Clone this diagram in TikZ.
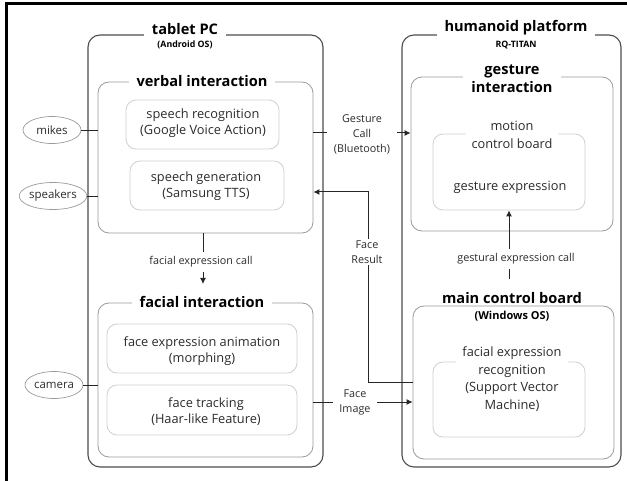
\documentclass[tikz,border=0pt]{standalone}
\usepackage{fontspec}
\setmainfont{Open Sans}
\usetikzlibrary{arrows.meta,shapes.geometric}
\definecolor{outerln}{HTML}{4D4D4D}
\definecolor{midln}{HTML}{9A9A9A}
\definecolor{innerln}{HTML}{CFCFCF}
\definecolor{txt}{HTML}{2B2B2B}
\begin{document}
\begin{tikzpicture}[x=1pt,y=-1pt,
  outerbox/.style={draw=outerln,line width=1.1pt,rounded corners=12pt,minimum width=#1,inner sep=0pt},
  midbox/.style={draw=midln,line width=0.8pt,rounded corners=11pt,inner sep=0pt},
  innerbox/.style={draw=innerln,line width=0.8pt,rounded corners=10pt,inner sep=0pt},
  bigtitle/.style={fill=white,font=\bfseries\fontsize{14.6}{15}\selectfont,inner xsep=8pt,inner ysep=1pt,align=center},
  subtitle/.style={font=\bfseries\fontsize{8.8}{10}\selectfont,inner sep=0pt},
  body/.style={text=txt,font=\fontsize{12.8}{16}\selectfont,align=center,inner sep=0pt},
  device/.style={ellipse,draw=midln,line width=0.7pt,minimum width=58pt,minimum height=27pt,inner sep=0pt,text=txt,font=\fontsize{11.5}{12}\selectfont},
  conn/.style={draw=black!85,line width=1pt},
  arr/.style={conn,-{Latex[length=6pt,width=6pt]}},
  clabel/.style={fill=white,text=txt,font=\fontsize{10.8}{15}\selectfont,align=center,inner xsep=7pt,inner ysep=4pt}
]
\useasboundingbox (0,0) rectangle (627,481);
% frame: top and left edges only
\draw[line width=3pt] (6,481) -- (6,4) -- (627,4);

% ---------- tablet PC ----------
\node[outerbox=235pt,minimum height=432pt] (tablet) at (205.5,251) {};
\node[bigtitle] (tabletT) at (185,29) {tablet PC};
\node[subtitle] (tabletS) at (185,45) {(Android OS)};

\node[midbox,minimum width=215pt,minimum height=151pt] (verbal) at (205.5,157.5) {};
\node[bigtitle] (verbalT) at (202,81) {verbal interaction};
\node[innerbox,minimum width=153pt,minimum height=49pt] (srec) at (202.5,124.5) {};
\node[body] (srecT) at (203,123) {speech recognition\\(Google Voice Action)};
\node[innerbox,minimum width=154pt,minimum height=49pt] (sgen) at (207,185.5) {};
\node[body] (sgenT) at (206,186) {speech generation\\(Samsung TTS)};

\node[midbox,minimum width=215pt,minimum height=154pt] (facial) at (205.5,380) {};
\node[bigtitle] (facialT) at (202,302) {facial interaction};
\node[innerbox,minimum width=190pt,minimum height=49pt] (fanim) at (202,348.5) {};
\node[body] (fanimT) at (202,351) {face expression animation\\(morphing)};
\node[innerbox,minimum width=190pt,minimum height=50pt] (ftrack) at (202,410) {};
\node[body] (ftrackT) at (206,412) {face tracking\\(Haar-like Feature)};

% ---------- humanoid platform ----------
\node[outerbox=219pt,minimum height=432pt] (robot) at (511.5,251) {};
\node[bigtitle] (robotT) at (516,28) {humanoid platform};
\node[subtitle] (robotS) at (516,45) {RQ-TITAN};

\node[midbox,minimum width=202pt,minimum height=154pt] (gesture) at (512,154) {};
\node[bigtitle,font=\bfseries\fontsize{14.6}{18}\selectfont,inner ysep=2pt] (gestureT) at (512,79) {gesture\\interaction};
\node[innerbox,minimum width=152pt,minimum height=76pt] (motion) at (509,172) {};
\node[body,fill=white,inner xsep=6pt,font=\fontsize{12.8}{18}\selectfont] (motionT) at (512,135) {motion\\control board};
\node[body] (gexpT) at (510,187) {gesture expression};

\node[midbox,minimum width=201pt,minimum height=153pt] (mainb) at (513.5,382.5) {};
\node[bigtitle] (mainT) at (512,298) {main control board};
\node[subtitle,font=\bfseries\fontsize{11}{12}\selectfont] (mainS) at (512,316) {(Windows OS)};
\node[innerbox,minimum width=152pt,minimum height=75pt] (fer) at (509,399.5) {};
\node[body,fill=white,inner xsep=6pt,font=\fontsize{12.8}{17.7}\selectfont] (ferT) at (512,379) {facial expression\\recognition\\(Support Vector\\Machine)};

% ---------- input / output devices ----------
\node[device] (mikes) at (52,130) {mikes};
\node[device] (speakers) at (53,196) {speakers};
\node[device] (camera) at (54,385) {camera};
\draw[conn,line width=0.8pt] (mikes.east) -- (mikes.east -| verbal.west);
\draw[conn,line width=0.8pt] (speakers.east) -- (speakers.east -| verbal.west);
\draw[conn,line width=0.8pt] (camera.east) -- (camera.east -| facial.west);

% ---------- calls between modules ----------
\coordinate (fcEnd) at (203,284);
\draw[arr] (verbal.south -| fcEnd) -- (fcEnd);
\node[clabel,inner ysep=5pt] (fcL) at (201,262) {facial expression call};

\coordinate (gcY) at (0,133);
\draw[arr] (verbal.east |- gcY) -- (gesture.west |- gcY);
\node[clabel] (gcL) at (362,134) {Gesture\\Call\\(Bluetooth)};

\coordinate (frY) at (0,382);
\coordinate (frTop) at (368,192);
\draw[arr] (mainb.west |- frY) -- (frTop |- frY) -- (frTop) -- (verbal.east |- frTop);
\node[clabel,inner xsep=2pt,inner ysep=2pt] (frL) at (367,252) {Face\\Result};

\coordinate (geStart) at (509,279);
\draw[arr] (geStart) -- (geStart |- motion.south);
\node[clabel,inner ysep=5pt] (geL) at (516,259) {gestural expression call};

\coordinate (fiY) at (0,402);
\draw[arr] (facial.east |- fiY) -- (mainb.west |- fiY);
\node[clabel,inner xsep=6pt] (fiL) at (355,402) {Face\\Image};
\end{tikzpicture}
\end{document}
